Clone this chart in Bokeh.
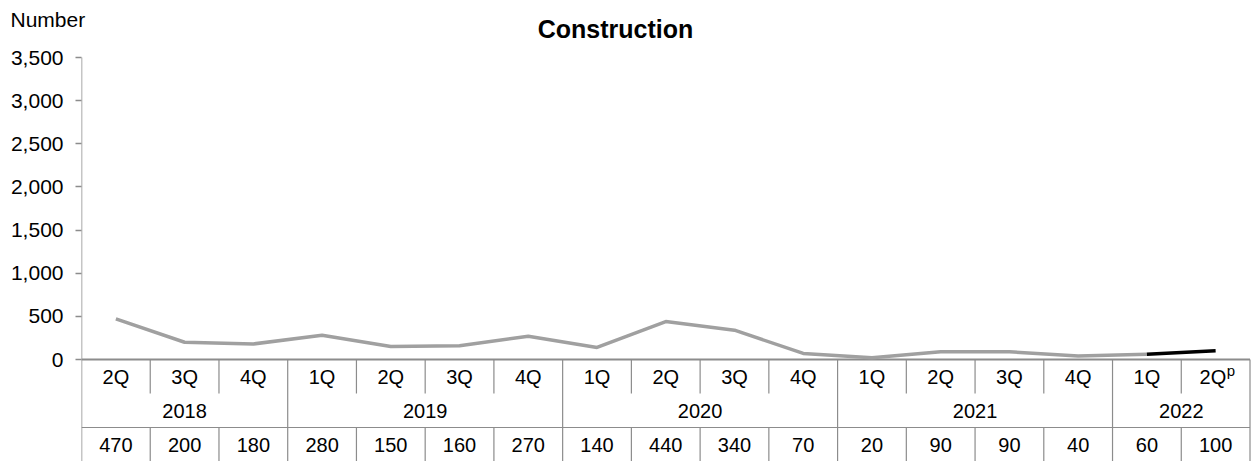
from bokeh.plotting import figure
from bokeh.models import FixedTicker, NumeralTickFormatter, Range1d, Label
from bokeh.core.properties import value
from bokeh.embed import file_html
from bokeh.resources import INLINE

# ---- data ----
quarters = ["2Q", "3Q", "4Q", "1Q", "2Q", "3Q", "4Q", "1Q", "2Q", "3Q", "4Q",
            "1Q", "2Q", "3Q", "4Q", "1Q", "2Q"]
years = ["2018", "2019", "2020", "2021", "2022"]
year_counts = [3, 4, 4, 4, 2]
values = [470, 200, 180, 280, 150, 160, 270, 140, 440, 340, 70, 20, 90, 90, 40, 60, 100]
y_ticks = [0, 500, 1000, 1500, 2000, 2500, 3000, 3500]
prelim_from = 15  # index where the provisional (black) segment starts
title = "Construction"
y_title = "Number"

# ---- layout (pixels) ----
W, H = 1251, 461
TOP = 56
LEFT = 81
FRAME_W = W - LEFT
Y0_PX, YTOP_PX = 359, 57
K = y_ticks[-1] / (Y0_PX - YTOP_PX)  # units per pixel
ncol = len(values)
XEND = ncol * FRAME_W / 1168.5


def dv(py):
    return (Y0_PX - py) * K


def dx(px):
    return (px - LEFT) * XEND / FRAME_W


FONT = "Liberation Sans"
FS = "20px"
GRID = "#8c8c8c"

p = figure(width=W, height=H, output_backend="svg", toolbar_location=None,
           x_range=Range1d(0, XEND), y_range=Range1d(dv(H), dv(TOP)),
           x_axis_location=None, min_border_left=LEFT, min_border_right=0,
           min_border_top=TOP, min_border_bottom=0)
p.outline_line_color = None
p.xgrid.visible = False
p.ygrid.visible = False

ax = p.yaxis[0]
ax.ticker = FixedTicker(ticks=y_ticks)
ax.formatter = NumeralTickFormatter(format="0,0")
ax.axis_line_color = None
ax.major_tick_in = 0
ax.major_tick_out = 6
ax.major_tick_line_color = GRID
ax.major_tick_line_width = 1.5
ax.minor_tick_line_color = None
ax.major_label_standoff = 12
ax.major_label_text_font = FONT
ax.major_label_text_font_size = "21px"
ax.major_label_text_color = "black"

# axis line (down through the table)
p.segment(x0=[0], y0=[dv(H)], x1=[0], y1=[y_ticks[-1]], line_color=GRID, line_width=1.5)
# zero line / table top
p.segment(x0=[0], y0=[0], x1=[ncol], y1=[0], line_color=GRID, line_width=2)

# table grid
r1b, r2b = dv(393), dv(427)
year_bounds = []
acc = 0
for c in year_counts:
    acc += c
    year_bounds.append(acc)
xs0, ys0, xs1, ys1 = [], [], [], []
for i in range(1, ncol + 1):
    if i in year_bounds:
        xs0.append(i); ys0.append(0); xs1.append(i); ys1.append(dv(H))
    else:
        xs0 += [i, i]; ys0 += [0, r2b]; xs1 += [i, i]; ys1 += [r1b, dv(H)]
xs0.append(0); ys0.append(r2b); xs1.append(ncol); ys1.append(r2b)
p.segment(x0=xs0, y0=ys0, x1=xs1, y1=ys1, line_color=GRID, line_width=1.2)

# series
xc = [i + 0.5 for i in range(ncol)]
p.line(xc[:prelim_from + 1], values[:prelim_from + 1], line_color="#a0a0a0", line_width=3.5)
p.line(xc[prelim_from:], values[prelim_from:], line_color="black", line_width=3.5)

# table text
row1_y, row2_y, row3_y = dv(376), dv(410), dv(444)
qx = list(xc)
qx[-1] = xc[-1] - 0.04
p.text(qx, [row1_y] * ncol, text=quarters, text_font=value(FONT), text_font_size=FS,
       text_align="center", text_baseline="middle", text_color="black")
# provisional marker "p" as superscript
p.text([qx[-1] + 0.2], [dv(370)], text=["p"], text_font=value(FONT), text_font_size="15px",
       text_align="left", text_baseline="middle", text_color="black")

ycent = []
start = 0
for c in year_counts:
    ycent.append(start + c / 2)
    start += c
p.text(ycent, [row2_y] * len(years), text=years, text_font=value(FONT), text_font_size=FS,
       text_align="center", text_baseline="middle", text_color="black")
p.text(xc, [row3_y] * ncol, text=[str(v) for v in values], text_font=value(FONT),
       text_font_size=FS, text_align="center", text_baseline="middle", text_color="black")

# titles (placed in the top panel so they are not clipped to the frame)
p.add_layout(Label(x=dx(615), y=dv(28), text=title, text_font=FONT, text_font_size="25px",
                   text_font_style="bold", text_align="center", text_baseline="middle",
                   text_color="black"), "above")
p.add_layout(Label(x=dx(10), y=dv(19), text=y_title, text_font=FONT, text_font_size="21px",
                   text_align="left", text_baseline="middle", text_color="black"), "above")

open("out.html", "w").write(file_html(p, INLINE))
